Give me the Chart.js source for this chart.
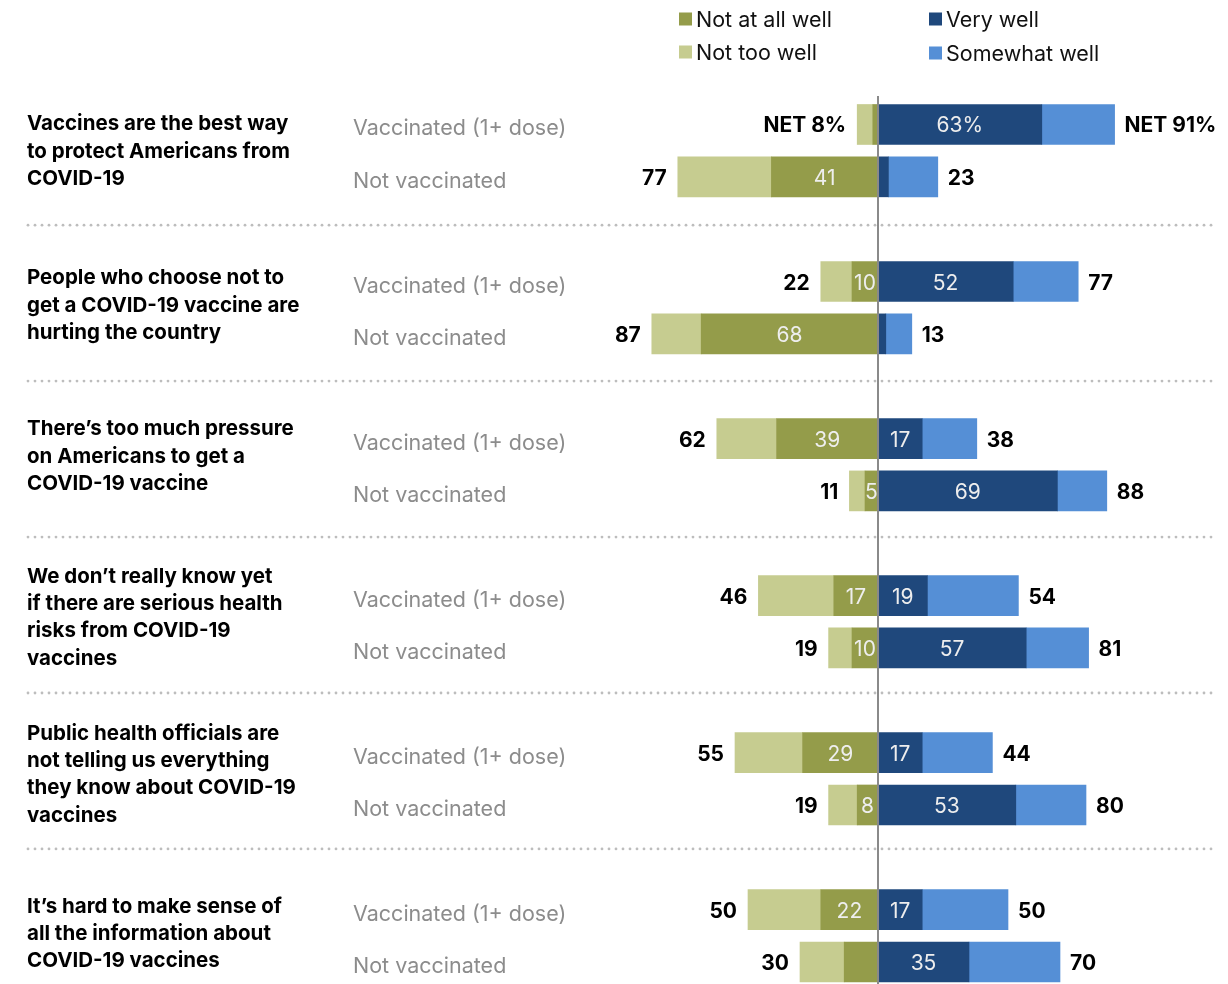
<!DOCTYPE html>
<html><head><meta charset="utf-8">
<script src="https://cdn.jsdelivr.net/npm/chart.js@4.4.1/dist/chart.umd.min.js"></script>
<style>html,body{margin:0;padding:0;background:#fff}#wrap{width:1228px;height:984px;position:relative}</style>
</head><body><div id="wrap"><canvas id="c" width="1228" height="984"></canvas></div>
<script>
// ---------- data ----------
const questions = [
  ['Vaccines are the best way', 'to protect Americans from', 'COVID-19'],
  ['People who choose not to', 'get a COVID-19 vaccine are', 'hurting the country'],
  ['There\u2019s too much pressure', 'on Americans to get a', 'COVID-19 vaccine'],
  ['We don\u2019t really know yet', 'if there are serious health', 'risks from COVID-19', 'vaccines'],
  ['Public health officials are', 'not telling us everything', 'they know about COVID-19', 'vaccines'],
  ['It\u2019s hard to make sense of', 'all the information about', 'COVID-19 vaccines']
];
const groupsLabels = ['Vaccinated (1+ dose)', 'Not vaccinated'];
const seriesNames = ['Not at all well', 'Not too well', 'Very well', 'Somewhat well'];
const notAtAll     = [2, 41, 10, 68, 39, 5, 17, 10, 29, 8, 22, 13];
const notTooWell   = [6, 36, 12, 19, 23, 6, 29, 9, 26, 11, 28, 17];
const veryWell     = [63, 4, 52, 3, 17, 69, 19, 57, 17, 53, 17, 35];
const somewhatWell = [28, 19, 25, 10, 21, 19, 35, 24, 27, 27, 33, 35];
const notAtAllText = ['', '41', '10', '68', '39', '5', '17', '10', '29', '8', '22', ''];
const veryWellText = ['63%', '', '52', '', '17', '69', '19', '57', '17', '53', '17', '35'];
const leftNet  = ['NET 8%', '77', '22', '87', '62', '11', '46', '19', '55', '19', '50', '30'];
const rightNet = ['NET 91%', '23', '77', '13', '38', '88', '54', '81', '44', '80', '50', '70'];

// ---------- style ----------
const colors = ['#949c4a', '#c6cc90', '#1f487c', '#558fd6'];
const FONT = 'Inter, "Liberation Sans", Arial, sans-serif';
const qOffset = [0, -3, -9, -5, -5, -3];

// row index -> slot position (two rows + a gap per group)
const rowPos = notAtAll.map((_, i) => Math.floor(i / 2) * 3 + (i % 2));
const mk = (arr, sign) => arr.map((v, i) => ({ x: sign * v, y: rowPos[i] }));

const overlay = {
  id: 'overlay',
  afterDatasetsDraw(chart) {
    const ctx = chart.ctx;
    const xs = chart.scales.x, ys = chart.scales.y;
    const x0 = xs.getPixelForValue(0);
    ctx.save();
    // segment labels
    ctx.fillStyle = '#eeeeee';
    ctx.font = '21px ' + FONT;
    ctx.textAlign = 'center';
    ctx.textBaseline = 'alphabetic';
    const m0 = chart.getDatasetMeta(0).data, m1 = chart.getDatasetMeta(1).data;
    const m2 = chart.getDatasetMeta(2).data, m3 = chart.getDatasetMeta(3).data;
    m0.forEach((b, i) => {
      if (notAtAllText[i]) ctx.fillText(notAtAllText[i], (b.x + b.base) / 2, b.y + 8);
    });
    m2.forEach((b, i) => {
      if (veryWellText[i]) ctx.fillText(veryWellText[i], (b.x + b.base) / 2, b.y + 8);
    });
    // net labels
    ctx.fillStyle = '#000';
    ctx.font = 'bold 21px ' + FONT;
    m1.forEach((b, i) => {
      ctx.textAlign = 'right';
      ctx.fillText(leftNet[i], Math.min(b.x, b.base) - 11, b.y + 8);
    });
    m3.forEach((b, i) => {
      ctx.textAlign = 'left';
      ctx.fillText(rightNet[i], Math.max(b.x, b.base) + 10, b.y + 8);
    });
    // center line
    ctx.strokeStyle = '#8a8a8a';
    ctx.lineWidth = 2;
    ctx.beginPath();
    ctx.moveTo(x0, 96);
    ctx.lineTo(x0, 984);
    ctx.stroke();

    // group/row labels
    ctx.fillStyle = '#8c8c8c';
    ctx.font = '21.5px ' + FONT;
    ctx.textAlign = 'left';
    rowPos.forEach((p, i) => {
      ctx.fillText(groupsLabels[i % 2], 353, ys.getPixelForValue(p) + 11);
    });
    // question labels
    ctx.fillStyle = '#000';
    ctx.font = 'bold 20.5px ' + FONT;
    const lh = 27.3;
    questions.forEach((lines, g) => {
      const c = (ys.getPixelForValue(g * 3) + ys.getPixelForValue(g * 3 + 1)) / 2 + qOffset[g];
      const first = c - (lines.length - 1) * lh / 2;
      lines.forEach((t, k) => ctx.fillText(t, 27, first + k * lh + 7));
    });
    // dotted separators
    ctx.fillStyle = '#bdbdbd';
    for (let g = 0; g < questions.length - 1; g++) {
      const y = ys.getPixelForValue(g * 3 + 2) - 4 - g * 1.1;
      for (let x = 28; x <= 1214; x += 7) {
        ctx.beginPath();
        ctx.arc(x, y, 1.4, 0, Math.PI * 2);
        ctx.fill();
      }
    }
    // legend
    const leg = [[679, 19, 0], [679, 52, 1], [929, 19, 2], [929, 53, 3]];
    ctx.font = '21.5px ' + FONT;
    leg.forEach(([lx, ly, k]) => {
      ctx.fillStyle = colors[k];
      ctx.fillRect(lx, ly - 6.5, 13, 13);
      ctx.fillStyle = '#111';
      ctx.fillText(seriesNames[k], lx + 17, ly + 8);
    });
    ctx.restore();
  }
};

new Chart(document.getElementById('c'), {
  type: 'bar',
  data: {
    datasets: [
      { label: seriesNames[0], data: mk(notAtAll, -1), backgroundColor: colors[0] },
      { label: seriesNames[1], data: mk(notTooWell, -1), backgroundColor: colors[1] },
      { label: seriesNames[2], data: mk(veryWell, 1), backgroundColor: colors[2] },
      { label: seriesNames[3], data: mk(somewhatWell, 1), backgroundColor: colors[3] }
    ]
  },
  options: {
    indexAxis: 'y',
    responsive: false,
    animation: false,
    devicePixelRatio: 1,
    datasets: { bar: { barThickness: 40, borderWidth: 0 } },
    layout: { padding: { left: 618, right: 90, top: 98, bottom: 0 } },
    scales: {
      x: { type: 'linear', stacked: true, min: -100, max: 100, display: false, offset: false },
      y: { type: 'linear', stacked: true, reverse: true, min: -0.506, max: 16.42, display: false, offset: false }
    },
    plugins: { legend: { display: false }, tooltip: { enabled: false } }
  },
  plugins: [overlay]
});
</script></body></html>
